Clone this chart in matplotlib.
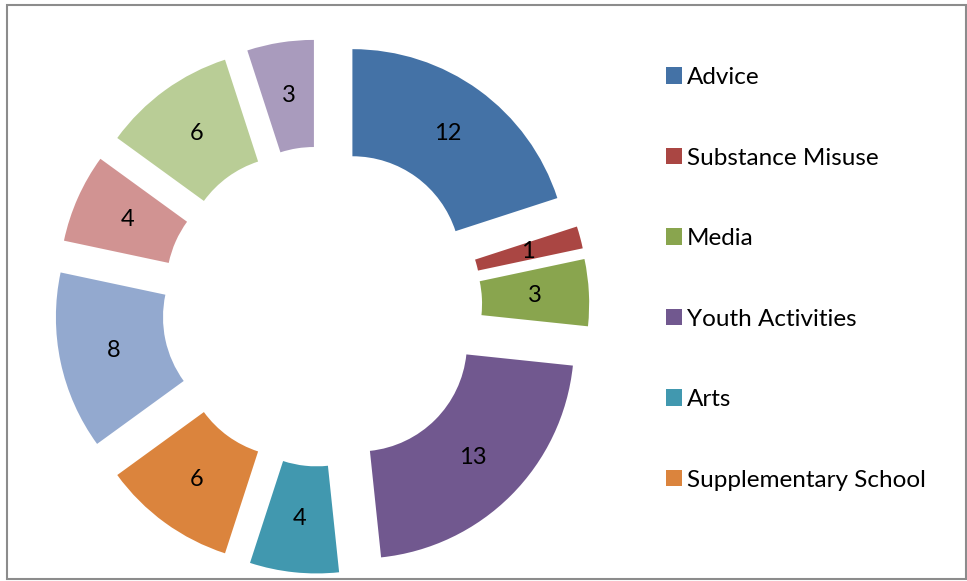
import matplotlib.pyplot as plt
from matplotlib.patches import Rectangle

plt.rcParams['font.family'] = ['Lato', 'DejaVu Sans']

# data
categories = ['Advice', 'Substance Misuse', 'Media', 'Youth Activities', 'Arts',
              'Supplementary School', 'Other 1', 'Other 2', 'Other 3', 'Other 4']
values = [12, 1, 3, 13, 4, 6, 8, 4, 6, 3]
colors = ['#4472A6', '#AA4643', '#89A54E', '#71588F', '#4198AF',
          '#DB843D', '#93A9CF', '#D19392', '#B9CD96', '#A99BBD']
legend_count = 6  # only the first six fit in the legend

W, H = 967, 581
fig = plt.figure(figsize=(W / 100, H / 100), dpi=100)

# pie placed so that its centre is at (322, 306) px, radius 215 px
cx, cy, R = 322, 306.5, 215.5
lim = 1.4
size = 2 * lim * R
ax = fig.add_axes([(cx - size / 2) / W, (H - cy - size / 2) / H, size / W, size / H])

total = sum(values)
wedges, texts, autotexts = ax.pie(
    values, colors=colors, startangle=90, counterclock=False,
    explode=[0.24] * len(values), radius=1,
    wedgeprops=dict(width=0.497, linewidth=0),
    autopct=lambda p: '{:.0f}'.format(p * total / 100), pctdistance=0.75,
    textprops=dict(fontsize=17, color='black'))
ax.set_xlim(-lim, lim)
ax.set_ylim(-lim, lim)
ax.set_aspect('equal')
ax.axis('off')

fs = 17.5
px = fs * 100 / 72
leg = fig.legend(wedges[:legend_count], categories[:legend_count],
                 loc='upper left', bbox_to_anchor=(666 / W, 1 - 67 / H),
                 bbox_transform=fig.transFigure, frameon=False, fontsize=fs,
                 borderpad=0, borderaxespad=0,
                 handlelength=16 / px, handleheight=16 / px,
                 handletextpad=5 / px, labelspacing=2.45)

# outer chart frame
fig.patches.append(Rectangle((7 / W, 1 - 579 / H), 959 / W, 574 / H,
                             transform=fig.transFigure, fill=False,
                             edgecolor='#8c8c8c', linewidth=1.5))

fig.savefig('out.png', dpi=100)
